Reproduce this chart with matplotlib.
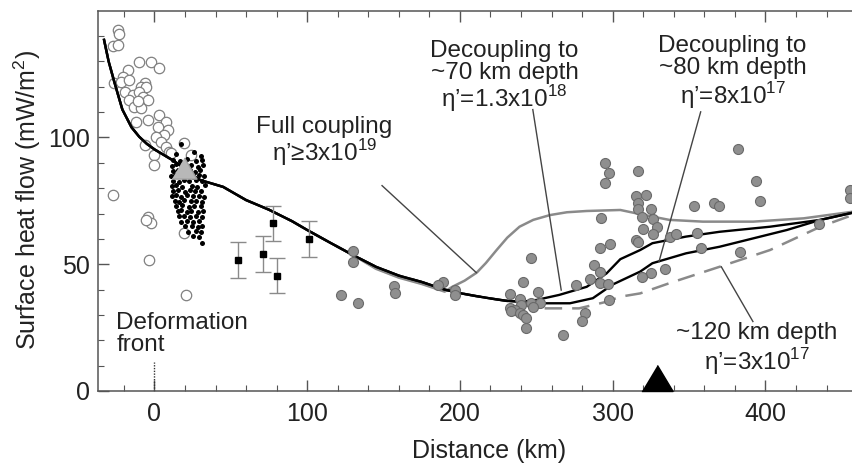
import numpy as np
import matplotlib
matplotlib.use('Agg')
import matplotlib.pyplot as plt

plt.rcParams['font.family'] = ['Liberation Sans', 'DejaVu Sans']
plt.rcParams['mathtext.fontset'] = 'custom'
plt.rcParams['mathtext.rm'] = 'Liberation Sans'

# --- model curves (km, mW/m2) ---
# shared fore-arc part (all models coincide here)
fa_x = [-33, -30, -26, -21, -15, -10, -5, 0, 5, 12, 18, 23, 30, 45, 60, 75, 90, 100, 115, 130, 145, 160, 175, 190]
fa_y = [138.5, 130, 121.3, 111, 104, 100.3, 97.5, 95.3, 93.5, 91, 88.5, 86, 83.2, 80.5, 75.3, 71.5, 67, 63.5, 58.5, 53.6, 49, 45.5, 43, 40]

full_x = [195, 203, 211, 217, 224, 231, 239, 248, 259, 270, 283, 305, 320, 337, 359, 392, 425, 457, 475]
full_y = [41.1, 43.5, 46.7, 50.5, 55.6, 60.5, 64.8, 67.5, 69.4, 70.5, 71.0, 71.4, 69.5, 67.5, 66.8, 66.8, 68.1, 70.7, 72.0]

dec70_x = [200, 210, 220, 230, 240, 250, 265, 283, 296, 305, 318, 326, 348, 370, 403, 436, 457, 475]
dec70_y = [38.6, 37.5, 36.5, 35.6, 35.2, 35.9, 37.9, 41.1, 46.4, 52.0, 55.6, 58.3, 60.9, 62.8, 64.8, 67.5, 70.3, 71.5]

dec80_x = [200, 210, 220, 230, 240, 252, 272, 287, 300, 318, 326, 348, 370, 392, 414, 436, 457, 475]
dec80_y = [38.6, 37.5, 36.5, 35.6, 35.2, 34.6, 34.6, 36.6, 42.0, 47.1, 50.4, 54.3, 56.9, 60.2, 63.5, 67.5, 70.3, 71.5]

dec120_x = [200, 210, 220, 230, 240, 256, 278, 296, 305, 318, 337, 370, 403, 436, 457, 475]
dec120_y = [38.6, 37.5, 36.5, 35.6, 34.0, 32.6, 32.6, 35.2, 37.2, 38.5, 42.5, 49.0, 55.6, 64.8, 69.4, 71.0]

# --- observations ---
open_x = [-24.0, -22.9, -27.3, -24.0, -9.8, -2.2, 3.3, -17.5, -20.8, -26.2, -21.8, -16.4, -6.5, -8.7, -5.4,
          -19.6, -14.2, -9.8, -7.7, -4.4, -16.4, -13.1, -8.7, -10.9, 3.3, 7.7, -4.4, -12.0, 2.2, 8.7, 6.5,
          1.1, 4.4, 7.7, 9.8, -6.5, 0.0, 0.0, 10.9, 19.6, 24.0, -27.3, -4.4, -2.2, -5.4, 19.6, -3.3, 20.8]
open_y = [142.4, 140.8, 136.1, 136.5, 129.9, 129.9, 127.3, 126.6, 124.0, 121.4, 122.0, 122.7, 121.4, 120.0, 120.0,
          118.1, 116.8, 118.1, 116.1, 114.8, 114.8, 112.2, 111.5, 114.2, 108.9, 106.2, 106.9, 106.2, 104.3, 103.0, 101.0,
          100.3, 98.3, 96.4, 94.4, 97.0, 93.1, 89.2, 93.8, 97.7, 93.1, 77.3, 68.8, 66.2, 67.5, 62.2, 51.7, 37.9]

dot_x = [14.2, 26.1, 30.4, 17.5, 12.3, 16.4, 21.0, 27.2, 31.3, 11.2, 14.0, 18.3, 24.1, 28.2, 32.0,
         12.4, 15.3, 20.2, 23.1, 26.3, 30.1, 11.0, 13.4, 17.2, 21.4, 25.2, 29.3, 32.4,
         12.1, 16.2, 19.4, 22.3, 27.4, 31.2, 11.3, 14.2, 18.1, 24.3, 28.1, 33.0,
         12.2, 15.4, 20.3, 23.2, 26.4, 30.2, 11.4, 14.3, 17.3, 21.2, 25.3, 29.1, 32.2,
         13.2, 16.3, 19.2, 24.1, 27.3, 31.4, 14.1, 18.2, 22.4, 26.2, 30.3,
         15.2, 17.4, 21.3, 24.2, 28.3, 32.1, 16.1, 19.3, 23.2, 27.1, 31.2,
         17.2, 21.1, 25.2, 29.3, 20.1, 24.3, 28.2, 31.0, 22.2, 27.1, 30.2, 25.1, 29.2, 31.2]
dot_y = [93.5, 94.2, 92.8, 97.4, 91.0, 90.6, 91.4, 90.8, 91.3, 88.9, 89.4, 88.6, 89.1, 88.4, 89.2,
         86.8, 87.3, 86.6, 87.2, 86.5, 87.0, 84.7, 85.3, 84.8, 85.2, 84.6, 85.1, 84.9,
         83.0, 82.6, 83.2, 82.8, 83.1, 82.7, 80.8, 81.2, 80.6, 81.0, 80.5, 81.1,
         78.8, 79.2, 78.6, 79.1, 78.7, 79.0, 76.9, 77.3, 76.7, 77.2, 76.8, 77.1, 76.6,
         75.1, 74.7, 75.2, 74.8, 75.0, 74.6, 72.9, 73.2, 72.7, 73.1, 72.8,
         70.8, 71.2, 70.7, 71.0, 70.6, 71.1, 68.9, 69.2, 68.7, 69.0, 68.8,
         66.8, 67.1, 66.7, 67.0, 64.9, 65.2, 64.7, 65.1, 62.9, 63.2, 62.7, 61.0, 60.8, 58.3]

sq_x = [55.0, 70.9, 77.3, 79.9, 101.0]
sq_y = [51.7, 54.0, 66.1, 45.5, 60.0]
sq_err = [7, 7, 7, 7, 7]

gray_x = [129.9, 129.9, 122.3, 133.1, 157.0, 157.5, 188.8, 185.5, 196.5, 196.5,
          294.7, 297.5, 294.7, 316.5, 315.0, 292.5, 291.4, 298.0, 315.4, 246.7, 241.2,
          287.5, 291.4, 284.9, 291.4, 296.9, 276.2, 251.0, 232.5, 239.0, 246.7, 252.1,
          240.2, 247.7, 232.5, 235.8, 233.6, 239.0, 241.2, 243.4, 243.4, 281.6, 279.8,
          267.4, 297.5, 382.0, 393.6, 396.7, 353.0, 366.1, 369.6, 322.0, 316.5, 325.3,
          316.5, 319.4, 326.3, 329.0, 320.0, 326.3, 316.5, 337.3, 341.2, 355.1, 358.0,
          383.6, 434.8, 334.0, 325.3, 319.4, 455.1, 455.1]
gray_y = [55.3, 51.0, 37.9, 34.6, 41.5, 38.5, 43.1, 41.8, 39.8, 37.9,
          90.1, 86.1, 82.2, 86.9, 76.9, 68.1, 56.3, 58.0, 59.6, 52.3, 43.1,
          49.7, 47.1, 44.1, 42.7, 42.1, 41.8, 39.2, 38.3, 36.2, 34.8, 34.8,
          33.9, 33.0, 32.6, 32.0, 31.7, 30.7, 30.0, 28.7, 24.7, 30.9, 27.6,
          22.1, 35.9, 95.3, 83.0, 75.1, 73.0, 74.0, 73.0, 77.3, 74.3, 71.6,
          71.6, 68.8, 67.7, 64.8, 63.8, 61.8, 58.9, 60.9, 61.8, 62.4, 56.3,
          55.0, 65.9, 48.0, 46.7, 44.9, 79.3, 76.0]

volcano_x = 329
trench_tri = (19.6, 88)

# leader lines: (x0, y0, x1, y1)
leader_full = (149, 81, 210.7, 46.7)
leader_70 = (247.7, 111.0, 266.3, 39.8)
leader_80 = (357.6, 110.1, 330.3, 51.0)
leader_120 = (371.1, 49.0, 391.8, 27.4)

fig = plt.figure(figsize=(8.53, 4.63), dpi=100)
ax = fig.add_axes([98.4 / 853, 72 / 463, 781.6 / 853, 380.3 / 463])

txt = '#222222'
ax.scatter(open_x, open_y, s=7.5 ** 2, facecolors='white', edgecolors='#808080', linewidths=0.9, zorder=2)

# model curves
ax.plot(fa_x + full_x, fa_y[:-4] + [y - 0.8 for y in fa_y[-4:]] + full_y, color='#8a8a8a', lw=1.8, zorder=3)
ax.plot(fa_x + dec120_x, fa_y + dec120_y, color='#8a8a8a', lw=1.8, dashes=(7, 4), zorder=3)
ax.plot(fa_x + dec80_x, fa_y + dec80_y, color='black', lw=1.7, zorder=4)
ax.plot(fa_x + dec70_x, fa_y + dec70_y, color='black', lw=1.7, zorder=4)

ax.scatter(dot_x, dot_y, s=3.6 ** 2, color='black', linewidths=0, zorder=5)
ax.plot([trench_tri[0]], [trench_tri[1]], marker=[(-1, -0.85), (1, -0.85), (0, 0.85)], ms=18,
        color='#b8b8b8', mec='#a0a0a0', zorder=6)

ax.errorbar(sq_x, sq_y, yerr=sq_err, fmt='s', ms=5, color='black', ecolor='#8a8a8a',
            elinewidth=1, capsize=6, capthick=1, zorder=5)

ax.scatter(gray_x, gray_y, s=7.2 ** 2, facecolors='#8f8f8f', edgecolors='#6a6a6a', linewidths=0.8, zorder=6)

# volcanic arc
ax.plot([volcano_x], [0], marker=[(-1.2, 0), (1.2, 0), (0, 2)], ms=37.5, color='black', clip_on=False, zorder=7)

# deformation front marker
ax.plot([0, 0], [0, 11.4], color='#333333', lw=1, ls=(0, (1, 1)), zorder=2)

for x0, y0, x1, y1 in [leader_full, leader_70, leader_80, leader_120]:
    ax.plot([x0, x1], [y0, y1], color='#444444', lw=1, zorder=4)

fs = 17.5
ax.text(111.3, 104.1, 'Full coupling', fontsize=fs, ha='center', va='center', color=txt)
ax.text(111.3, 94.0, 'η’≥3x10$^{19}$', fontsize=fs, ha='center', va='center', color=txt)
ax.text(229.2, 134.0, 'Decoupling to', fontsize=fs, ha='center', va='center', color=txt)
ax.text(229.2, 125.4, '~70 km depth', fontsize=fs, ha='center', va='center', color=txt)
ax.text(229.2, 115.3, 'η’=1.3x10$^{18}$', fontsize=fs, ha='center', va='center', color=txt)
ax.text(378.5, 136.0, 'Decoupling to', fontsize=fs, ha='center', va='center', color=txt)
ax.text(378.5, 127.4, '~80 km depth', fontsize=fs, ha='center', va='center', color=txt)
ax.text(378.5, 116.6, 'η’=8x10$^{17}$', fontsize=fs, ha='center', va='center', color=txt)
ax.text(394.2, 22.9, '~120 km depth', fontsize=fs, ha='center', va='center', color=txt)
ax.text(394.2, 11.6, 'η’=3x10$^{17}$', fontsize=fs, ha='center', va='center', color=txt)
ax.text(-24.9, 26.8, 'Deformation', fontsize=fs, ha='left', va='center', color=txt)
ax.text(-24.9, 18.1, 'front', fontsize=fs, ha='left', va='center', color=txt)

ax.set_xlim(-36.7, 475)
ax.set_ylim(0, 150)
ax.set_xticks([0, 100, 200, 300, 400])
ax.set_xticks(np.arange(-20, 475, 20), minor=True)
ax.set_yticks([0, 50, 100])
ax.set_yticks(np.arange(0, 150, 10), minor=True)
ax.tick_params(which='both', direction='in', top=True, right=False, colors='#555555',
               labelcolor=txt, labelsize=18)
ax.tick_params(which='major', length=8, width=1)
ax.tick_params(which='minor', length=4, width=0.8)
ax.tick_params(axis='x', pad=8)
ax.tick_params(axis='y', pad=6)
for s in ax.spines.values():
    s.set_color('#555555')
    s.set_linewidth(1.1)

ax.set_xlabel('Distance (km)', fontsize=18, color=txt, va='center')
ax.xaxis.set_label_coords(0.5, -0.158)
ax.set_ylabel('Surface heat flow (mW/m$^{2}$)', fontsize=18, color=txt, va='center')
ax.yaxis.set_label_coords(-0.0914, 0.502)

fig.savefig('out.png', dpi=100)
